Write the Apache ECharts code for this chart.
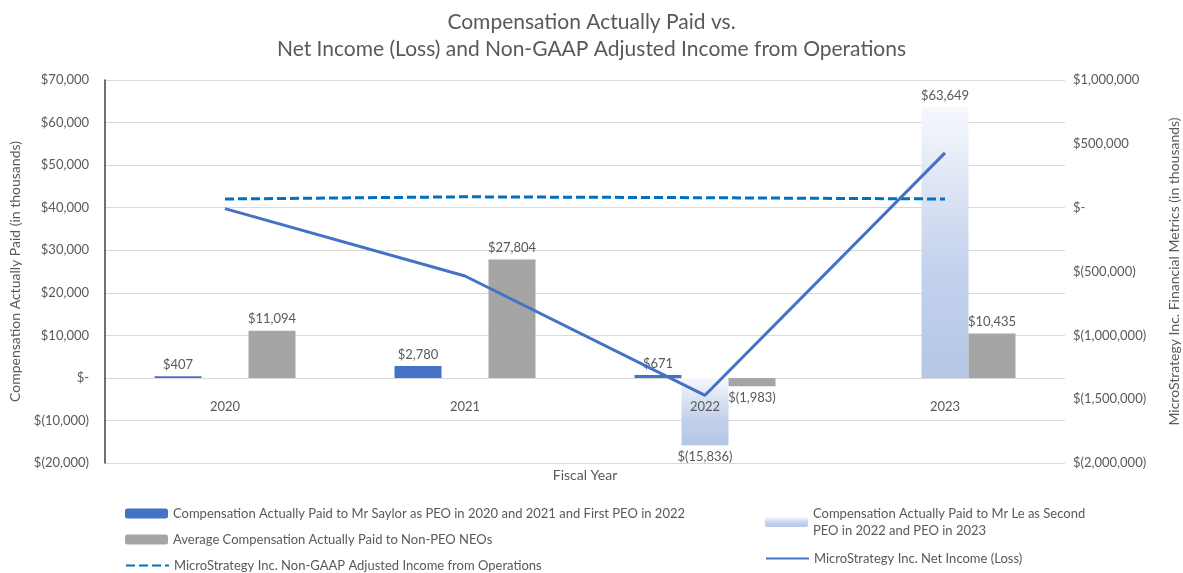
<!DOCTYPE html>
<html>
<head>
<meta charset="utf-8">
<script src="https://cdn.jsdelivr.net/npm/echarts@6/dist/echarts.min.js"></script>
<style>
  html, body { margin: 0; padding: 0; background: #fff; }
  #chart { width: 1183px; height: 573px; }
</style>
</head>
<body>
<div id="chart"></div>
<script>
const categories = ['2020', '2021', '2022', '2023']
// compensation actually paid, in thousands
const saylorCap = [407, 2780, 671, null]
const leCap = [null, null, -15836, 63649]
const avgNeoCap = [11094, 27804, -1983, 10435]
// company metrics, in thousands
const netIncome = [-7524, -535480, -1469797, 429121]
const nonGaapIncome = [68000, 85000, 78000, 68000]

const txt = '#595959'
const font = 'Lato'

function money (v) {
  if (v === 0) return '$-'
  const s = Math.abs(v).toLocaleString('en-US')
  return v < 0 ? '$(' + s + ')' : '$' + s
}

const barLabel = {
  show: true,
  position: 'top',
  color: txt,
  fontFamily: font,
  fontSize: 13,
  formatter: p => money(p.value)
}

const names = {
  saylor: 'Compensation Actually Paid to Mr Saylor as PEO in 2020 and 2021 and First PEO in 2022',
  le: 'Compensation Actually Paid to Mr Le as Second\nPEO in 2022 and PEO in 2023',
  avg: 'Average Compensation Actually Paid to Non-PEO NEOs',
  nonGaap: 'MicroStrategy Inc. Non-GAAP Adjusted Income from Operations',
  net: 'MicroStrategy Inc. Net Income (Loss)'
}

const leGradient = new echarts.graphic.LinearGradient(0, 0, 0, 1, [
  { offset: 0, color: '#f6f8fc' },
  { offset: 0.6, color: '#c3d1ec' },
  { offset: 1, color: '#b4c7e7' }
])

// one legend block per entry so each sits where the reference has it
function legendAt (name, left, top, isLine) {
  return {
    left: left,
    top: top,
    padding: 0,
    itemWidth: 43,
    itemHeight: 10,
    textStyle: { color: txt, fontSize: 13, fontFamily: font, lineHeight: 17 },
    data: [isLine ? { name: name, itemStyle: { opacity: 0 } } : name]
  }
}

const option = {
  backgroundColor: '#fff',
  textStyle: { fontFamily: font },
  title: {
    text: 'Compensation Actually Paid vs.\nNet Income (Loss) and Non-GAAP Adjusted Income from Operations',
    left: 'center',
    top: 4,
    textStyle: { color: txt, fontSize: 21, fontWeight: 'normal', lineHeight: 27, fontFamily: font }
  },
  legend: [
    legendAt(names.saylor, 125, 505, false),
    legendAt(names.avg, 125, 531, false),
    legendAt(names.nonGaap, 125, 557, true),
    legendAt(names.le, 765, 505, false),
    legendAt(names.net, 765, 550, true)
  ],
  grid: { left: 105, right: 118, top: 80, bottom: 110, outerBoundsMode: 'none' },
  xAxis: {
    type: 'category',
    data: categories,
    z: 10,
    name: 'Fiscal Year',
    nameLocation: 'middle',
    nameGap: 4,
    nameTextStyle: { color: txt, fontSize: 14, fontFamily: font },
    axisLine: { show: false, onZero: false },
    axisTick: { show: false },
    // year labels sit just under the zero line, as in the reference
    axisLabel: { color: txt, fontSize: 13, margin: -63 }
  },
  yAxis: [
    {
      type: 'value',
      min: -20000,
      max: 70000,
      interval: 10000,
      name: 'Compensation Actually Paid (in thousands)',
      nameLocation: 'middle',
      nameGap: 82,
      nameTextStyle: { color: txt, fontSize: 14, fontFamily: font },
      axisLine: { show: true, lineStyle: { color: '#404040', width: 1.5 } },
      axisTick: { show: false },
      axisLabel: { color: txt, fontSize: 13, margin: 16, formatter: money },
      splitLine: { lineStyle: { color: '#d9d9d9' } }
    },
    {
      type: 'value',
      min: -2000000,
      max: 1000000,
      interval: 500000,
      name: 'MicroStrategy Inc. Financial Metrics (in thousands)',
      nameLocation: 'middle',
      nameGap: 102,
      nameRotate: 90,
      nameTextStyle: { color: txt, fontSize: 14, fontFamily: font },
      axisLine: { show: false },
      axisTick: { show: false },
      axisLabel: { color: txt, fontSize: 13, margin: 8, formatter: money },
      splitLine: { show: false }
    }
  ],
  series: [
    {
      name: names.saylor,
      type: 'bar',
      data: saylorCap,
      barWidth: 47,
      barGap: '0%',
      itemStyle: { color: '#4472c4' },
      label: barLabel
    },
    {
      name: names.le,
      type: 'bar',
      data: leCap,
      barWidth: 47,
      barGap: '0%',
      itemStyle: { color: leGradient },
      label: barLabel
    },
    {
      name: names.avg,
      type: 'bar',
      data: avgNeoCap,
      barWidth: 47,
      barGap: '0%',
      itemStyle: { color: '#a5a5a5' },
      label: barLabel
    },
    {
      name: names.nonGaap,
      type: 'line',
      yAxisIndex: 1,
      data: nonGaapIncome,
      symbol: 'none',
      lineStyle: { color: '#0070c0', width: 3, type: [9, 4] },
      itemStyle: { color: '#0070c0' },
      z: 5
    },
    {
      name: names.net,
      type: 'line',
      yAxisIndex: 1,
      data: netIncome,
      symbol: 'none',
      lineStyle: { color: '#4472c4', width: 3 },
      itemStyle: { color: '#4472c4' },
      z: 6
    }
  ]
}

// negative bars carry their label underneath
option.series.forEach(s => {
  if (s.type !== 'bar') return
  s.data = s.data.map(v => (v !== null && v < 0)
    ? { value: v, label: { position: 'bottom' } }
    : v)
})

const chart = echarts.init(document.getElementById('chart'))
chart.setOption(option)
</script>
</body>
</html>
